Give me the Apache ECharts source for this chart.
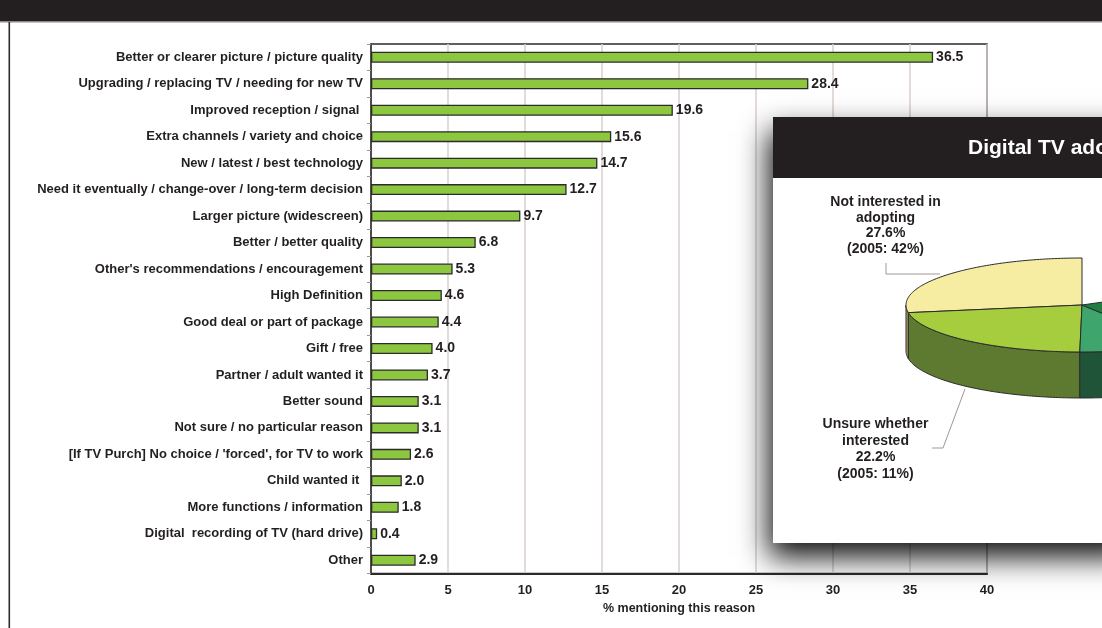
<!DOCTYPE html>
<html><head><meta charset="utf-8">
<script src="https://cdn.jsdelivr.net/npm/echarts/dist/echarts.min.js"></script>
<style>html,body{margin:0;padding:0;background:#fff}#c{width:1102px;height:628px}</style>
</head><body><div id="c"></div>
<script>
// ---------- data ----------
const categories = [
  'Better or clearer picture / picture quality',
  'Upgrading / replacing TV / needing for new TV',
  'Improved reception / signal ',
  'Extra channels / variety and choice',
  'New / latest / best technology',
  'Need it eventually / change-over / long-term decision',
  'Larger picture (widescreen)',
  'Better / better quality',
  "Other's recommendations / encouragement",
  'High Definition',
  'Good deal or part of package',
  'Gift / free',
  'Partner / adult wanted it',
  'Better sound',
  'Not sure / no particular reason',
  "[If TV Purch] No choice / 'forced', for TV to work",
  'Child wanted it ',
  'More functions / information',
  'Digital  recording of TV (hard drive)',
  'Other'
];
const values = [36.5, 28.4, 19.6, 15.6, 14.7, 12.7, 9.7, 6.8, 5.3, 4.6, 4.4, 4.0, 3.7, 3.1, 3.1, 2.6, 2.0, 1.8, 0.4, 2.9];
const xMin = 0, xMax = 40, xStep = 5;
const xAxisName = '% mentioning this reason';

const pieTitle = 'Digital TV adoption';
const pieNames = ['Not interested in\nadopting', 'Unsure whether\ninterested', '', '', ''];
const pieValues = [27.6, 22.2, 9.4, 23.6, 17.2];
const pie2005 = [42, 11, null, null, null];

// ---------- style / layout ----------
const FONT = "'Liberation Sans', Arial, sans-serif";
const PIE = {cx: 1082, cy: 305, rx: 176, ry: 47, depth: 46};
const pieTopColors = ['#f6eda3', '#a6cd3e', '#3ea66c', '#1f7e40', '#15603a'];
const pieSideColors = ['#b9ad62', '#5d7a30', '#1f5439', '#154a2c', '#0d3d24'];
const pieExplode = [0, 0, 0, 0, 45];
const pieLabelLayout = [
  {x: 885.5, y: 194.5, lh: 15.5, leader: [[886, 263], [886, 274], [940, 274]]},
  {x: 875.5, y: 416, lh: 16.5, leader: [[932, 448], [943, 448], [965, 389]]}
];

const starts = [];
(function(){ let s = 0; pieValues.forEach(v => { starts.push(s * 3.6); s += v; }); })();

function P(t, yOff, sx, sy) {
  const r = t * Math.PI / 180;
  return [PIE.cx + sx - PIE.rx * Math.sin(r), PIE.cy + sy - PIE.ry * Math.cos(r) + yOff];
}
function shiftOf(i) {
  const e = pieExplode[i];
  if (!e) return [0, 0];
  const t1 = starts[i], t2 = t1 + pieValues[i] * 3.6;
  const m = (t1 + t2) / 2 * Math.PI / 180;
  return [-Math.sin(m) * e, -Math.cos(m) * e * PIE.ry / PIE.rx];
}
function arcPts(a, b, yOff, sx, sy) {
  const pts = [];
  const n = Math.max(2, Math.ceil(Math.abs(b - a)));
  for (let k = 0; k <= n; k++) pts.push(P(a + (b - a) * k / n, yOff, sx, sy));
  return pts;
}

function renderSide(params, api) {
  const i = params.dataIndex;
  const t1 = starts[i], t2 = t1 + pieValues[i] * 3.6;
  const [sx, sy] = shiftOf(i);
  const ch = [];
  const stroke = {stroke: '#2b2b2b', lineWidth: 1};
  if (pieExplode[i]) {
    [t1, t2].forEach(t => {
      const c = [PIE.cx + sx, PIE.cy + sy], p = P(t, 0, sx, sy);
      ch.push({type: 'polygon', shape: {points: [c, p, [p[0], p[1] + PIE.depth], [c[0], c[1] + PIE.depth]]},
        style: Object.assign({fill: pieSideColors[i]}, stroke)});
    });
  }
  const a = Math.max(t1, 90), b = Math.min(t2, 270);
  if (a < b) {
    const pts = arcPts(a, b, 0, sx, sy).concat(arcPts(b, a, PIE.depth, sx, sy));
    ch.push({type: 'polygon', shape: {points: pts}, style: Object.assign({fill: pieSideColors[i]}, stroke)});
  }
  return {type: 'group', children: ch};
}

function renderTop(params, api) {
  const i = params.dataIndex;
  const t1 = starts[i], t2 = t1 + pieValues[i] * 3.6;
  const [sx, sy] = shiftOf(i);
  const pts = [[PIE.cx + sx, PIE.cy + sy]].concat(arcPts(t1, t2, 0, sx, sy));
  const ch = [{type: 'polygon', shape: {points: pts}, style: {fill: pieTopColors[i], stroke: '#2b2b2b', lineWidth: 1}}];
  const L = pieLabelLayout[i];
  if (L && pieNames[i]) {
    ch.push({type: 'polyline', shape: {points: L.leader}, style: {stroke: '#a09890', lineWidth: 1, fill: null}});
    ch.push({type: 'text', style: {
      text: pieNames[i] + '\n' + pieValues[i].toFixed(1) + '%\n(2005: ' + pie2005[i] + '%)',
      x: L.x, y: L.y, align: 'center', verticalAlign: 'top', lineHeight: L.lh,
      font: 'bold 14px ' + FONT, fill: '#231f20'}});
  }
  return {type: 'group', children: ch};
}

const chart = echarts.init(document.getElementById('c'), null, {renderer: 'canvas'});
chart.setOption({
  animation: false,
  backgroundColor: '#ffffff',
  grid: {left: 371, right: 115, top: 44, bottom: 54.5, show: true, borderColor: '#2b2b2b', borderWidth: 1.5, backgroundColor: 'transparent'},
  xAxis: {
    type: 'value', min: xMin, max: xMax, interval: xStep,
    name: xAxisName, nameLocation: 'middle', nameGap: 29,
    nameTextStyle: {fontFamily: FONT, fontWeight: 'bold', fontSize: 12.5, color: '#231f20'},
    axisLine: {show: true, lineStyle: {color: '#2b2b2b', width: 2}},
    axisTick: {show: false},
    axisLabel: {fontFamily: FONT, fontWeight: 'bold', fontSize: 13, color: '#231f20', margin: 10},
    splitLine: {show: true, lineStyle: {color: '#d8cfca', width: 1.5}}
  },
  yAxis: {
    type: 'category', inverse: true, data: categories,
    axisLine: {show: true, lineStyle: {color: '#2b2b2b', width: 1.5}},
    axisTick: {show: true, length: 4, lineStyle: {color: '#999'}},
    axisLabel: {fontFamily: FONT, fontWeight: 'bold', fontSize: 13, color: '#231f20', margin: 8},
    splitLine: {show: false}
  },
  series: [
    {
      type: 'bar', data: values, barWidth: 11, z: 2,
      itemStyle: {color: '#8dc63f', borderColor: '#2b2b2b', borderWidth: 1.3},
      label: {show: true, position: 'right', distance: 3, fontFamily: FONT, fontWeight: 'bold', fontSize: 14, color: '#231f20',
        formatter: p => p.value.toFixed(1)}
    },
    {type: 'custom', coordinateSystem: 'none', data: pieValues, renderItem: renderSide, z: 60, silent: true},
    {type: 'custom', coordinateSystem: 'none', data: pieValues, renderItem: renderTop, z: 61, silent: true}
  ],
  graphic: [
    {type: 'rect', z: 50, shape: {x: 0, y: 0, width: 1102, height: 21}, style: {fill: '#231f20'}},
    {type: 'rect', z: 50, shape: {x: 0, y: 21, width: 1102, height: 1.5}, style: {fill: '#8a8a8a'}},
    {type: 'rect', z: 50, shape: {x: 8.5, y: 22, width: 1.6, height: 606}, style: {fill: '#2b2b2b'}},
    {type: 'rect', z: 50, shape: {x: 773, y: 117, width: 360, height: 426},
      style: {fill: '#ffffff', shadowBlur: 28, shadowColor: 'rgba(0,0,0,0.95)', shadowOffsetX: -4, shadowOffsetY: 14}},
    {type: 'rect', z: 51, shape: {x: 773, y: 117, width: 360, height: 61}, style: {fill: '#231f20'}},
    {type: 'text', z: 52, style: {text: pieTitle, x: 968, y: 148, verticalAlign: 'middle', align: 'left',
      font: 'bold 21px ' + FONT, fill: '#ffffff'}}
  ]
});
</script></body></html>
